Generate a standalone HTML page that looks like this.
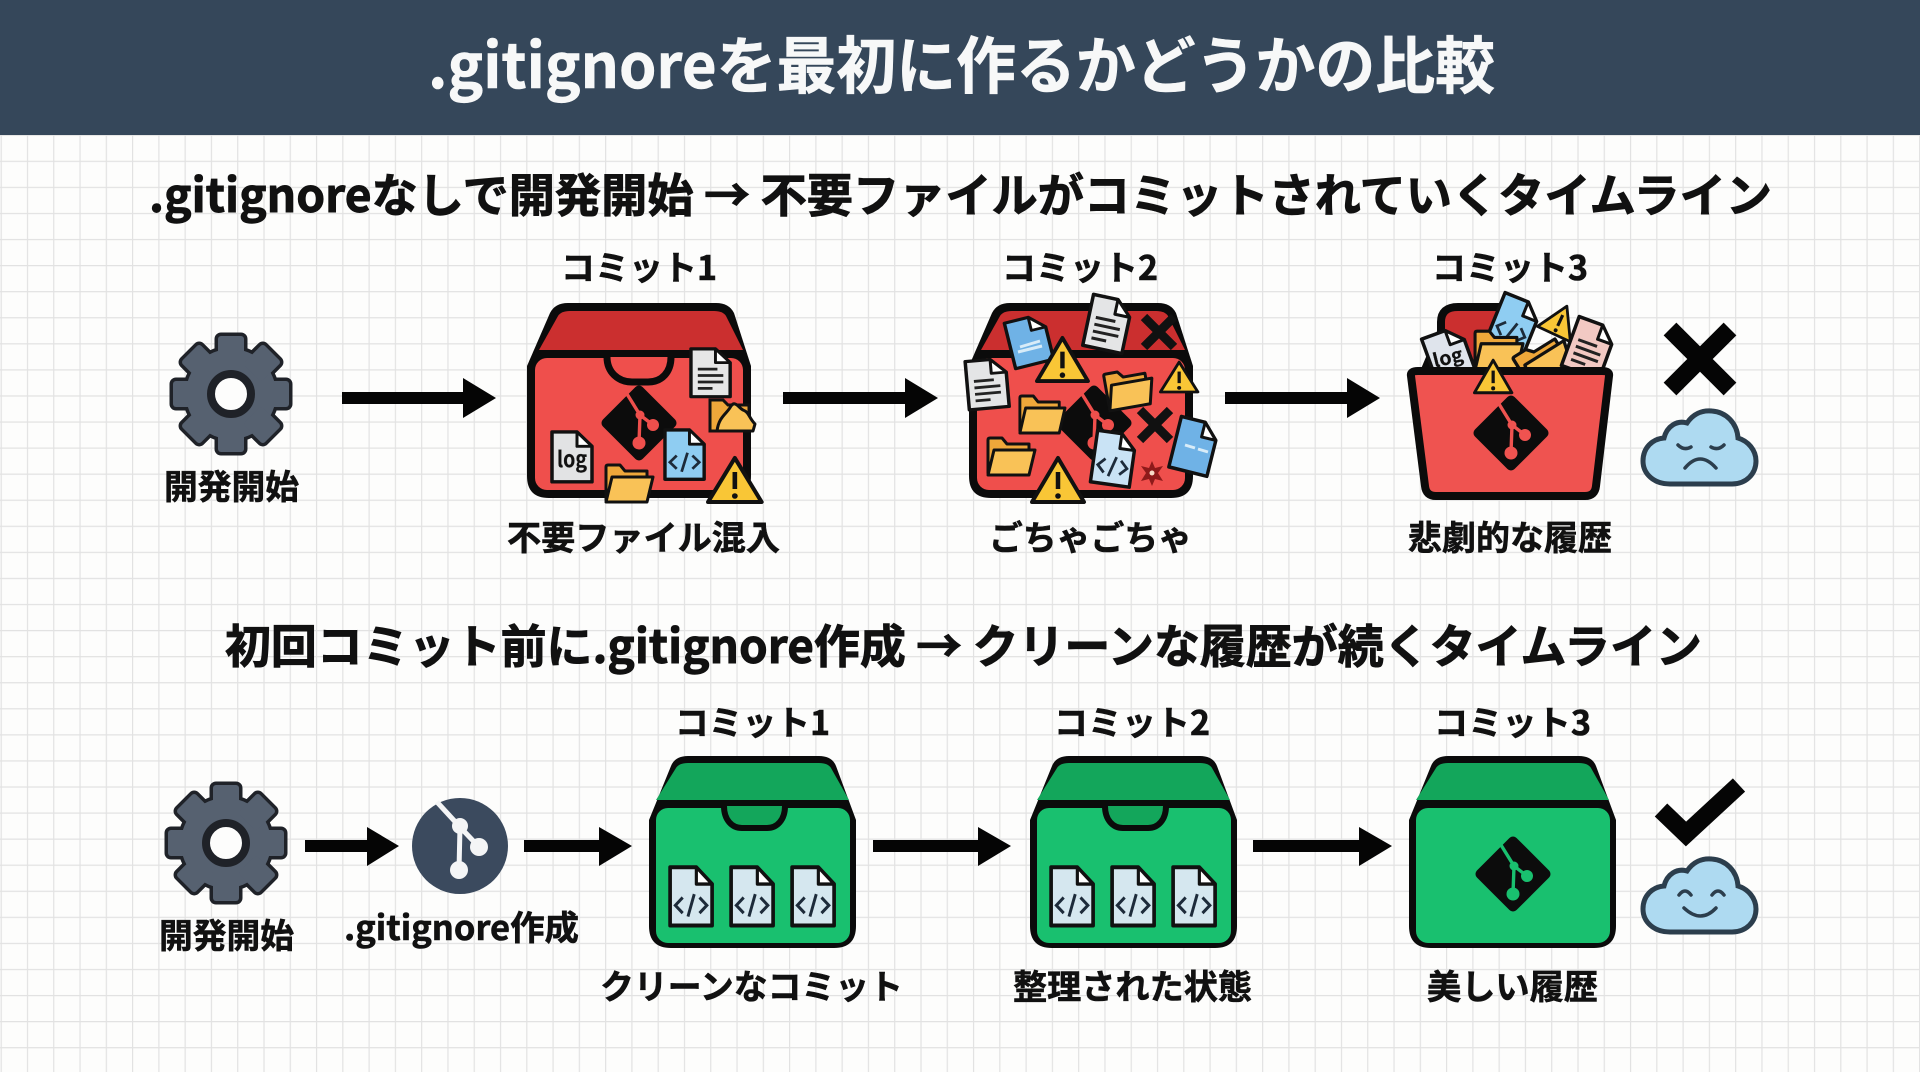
<!DOCTYPE html>
<html lang="ja">
<head>
<meta charset="utf-8">
<title>.gitignoreを最初に作るかどうかの比較</title>
<style>
html,body{margin:0;padding:0;background:#fdfdfc;width:1920px;height:1072px;overflow:hidden}
svg{display:block}
text{font-family:"Noto Sans CJK JP","Liberation Sans",sans-serif;font-weight:700;fill:#111;stroke:#111;stroke-width:.6}
</style>
</head>
<body>
<svg width="1920" height="1072" viewBox="0 0 1920 1072" xmlns="http://www.w3.org/2000/svg">
<defs>
<pattern id="grid" x="0.6" y="4.3" width="26.28" height="26.07" patternUnits="userSpaceOnUse">
<path d="M0 0H26.28M0 0V26.07" stroke="#e2e2e2" stroke-width="2.4" fill="none"/>
</pattern>
<g id="doc"><path d="M2 2H27L42 17V54H2Z" stroke="#111" stroke-width="3.5" stroke-linejoin="round"/><path d="M27 2V17H42Z" fill="#fff" stroke="#111" stroke-width="3" stroke-linejoin="round"/></g>
<g id="doclines"><use href="#doc"/><path d="M9 24H29M9 31H35M9 38H35M9 45H24" stroke="#222" stroke-width="3" fill="none"/></g>
<g id="code"><use href="#doc"/><path d="M14 29L7 36L14 43M30 29L37 36L30 43M25 26L19 46" stroke="#1d2b3a" stroke-width="2.8" fill="none"/></g>
<g id="folder"><path d="M3 38V5Q3 3 5 3H17L22 9H44V38Z" fill="#eea73a" stroke="#111" stroke-width="3" stroke-linejoin="round"/><path d="M3 40L9 15H50L44 40Z" fill="#f9c257" stroke="#111" stroke-width="3" stroke-linejoin="round"/></g>
<g id="warn"><path d="M28 3L54 47H2Z" fill="#f9c636" stroke="#111" stroke-width="4" stroke-linejoin="round"/><path d="M28 17V34" stroke="#111" stroke-width="4.5"/><circle cx="28" cy="41" r="2.8" fill="#111"/></g>
<g id="xm"><path d="M-15 -15L15 15M15 -15L-15 15" stroke="#111" stroke-width="9" fill="none"/></g>
<g id="git"><rect x="-28" y="-28" width="56" height="56" rx="5" transform="rotate(45)" fill="#0c0c0c"/><path d="M-12 -29L1 -8L14 2M1 -8L0 20" stroke="currentColor" stroke-width="3.4" fill="none"/><circle cx="1" cy="-8" r="4.5" fill="currentColor"/><circle cx="14" cy="2" r="6" fill="currentColor"/><circle cx="0" cy="20" r="6.5" fill="currentColor"/></g>
<g id="gearshape"><circle r="45"/><rect x="-13" y="-58" width="26" height="28" rx="3"/><rect x="-13" y="-58" width="26" height="28" rx="3" transform="rotate(45)"/><rect x="-13" y="-58" width="26" height="28" rx="3" transform="rotate(90)"/><rect x="-13" y="-58" width="26" height="28" rx="3" transform="rotate(135)"/><rect x="-13" y="-58" width="26" height="28" rx="3" transform="rotate(180)"/><rect x="-13" y="-58" width="26" height="28" rx="3" transform="rotate(225)"/><rect x="-13" y="-58" width="26" height="28" rx="3" transform="rotate(270)"/><rect x="-13" y="-58" width="26" height="28" rx="3" transform="rotate(315)"/></g>
<g id="gear"><use href="#gearshape" fill="#1f2228" stroke="#1f2228" stroke-width="7" stroke-linejoin="round"/><use href="#gearshape" fill="#566170"/><circle r="20" fill="#fdfdfc" stroke="#1f2228" stroke-width="8"/></g>
<path id="cloud" d="M30 76C14 76 3 66 3 53C3 40 12 31 24 30C27 18 37 12 47 15C53 6 62 2 72 3C86 4 97 15 98 30C108 33 116 42 116 53C116 66 106 76 92 76Z" fill="#aedaf1" stroke="#2c3e4d" stroke-width="5"/>
<g id="redbox">
<path d="M527 366L550 313Q555 303 568 303H716Q729 303 734 313L751 366V476Q751 498 729 498H549Q527 498 527 476Z" fill="#0b0b0b"/>
<path d="M539 350L558 316Q561 311 570 311H714Q723 311 726 316L743 350Z" fill="#cb2f2f"/>
<rect x="535" y="358" width="208" height="132" rx="12" fill="#ef4f4c"/>
</g>
<g id="greenbox">
<path d="M649 820L671 766Q675 756 688 756H819Q832 756 836 766L856 820V926Q856 948 834 948H671Q649 948 649 926Z" fill="#0b0b0b"/>
<path d="M656 800L676 768Q679 763 688 763H819Q828 763 831 768L849 800Z" fill="#13a65b"/>
<rect x="656" y="808" width="194" height="135" rx="12" fill="#19c06f"/>
</g>
<g id="docs3">
<use href="#code" fill="#d5e7ef" transform="translate(668 865) scale(1.05 1.12)"/>
<use href="#code" fill="#d5e7ef" transform="translate(729 865) scale(1.05 1.12)"/>
<use href="#code" fill="#d5e7ef" transform="translate(790 865) scale(1.05 1.12)"/>
</g>
<path id="ghandle" d="M724 806C724 820 732 828 742 828H767C777 828 785 820 785 806" fill="#13a65b" stroke="#0b0b0b" stroke-width="6"/>
</defs>

<rect width="1920" height="1072" fill="#fdfdfc"/>
<rect y="135" width="1920" height="937" fill="url(#grid)"/>
<rect width="1920" height="135" fill="#35475a"/>
<text x="428" y="88" font-size="62" textLength="1067" lengthAdjust="spacingAndGlyphs" style="fill:#f7f8f8;stroke:#f7f8f8">.gitignoreを最初に作るかどうかの比較</text>

<text x="149" y="212" font-size="46" textLength="1623" lengthAdjust="spacingAndGlyphs" style="stroke-width:.9">.gitignoreなしで開発開始 → 不要ファイルがコミットされていくタイムライン</text>
<text x="225" y="663" font-size="46" textLength="1477" lengthAdjust="spacingAndGlyphs" style="stroke-width:.9">初回コミット前に.gitignore作成 → クリーンな履歴が続くタイムライン</text>

<!-- top row -->
<use href="#gear" transform="translate(231 394)"/>
<text x="164" y="499" font-size="34" textLength="135" lengthAdjust="spacingAndGlyphs">開発開始</text>
<polygon points="342,392 463,392 463,378 496,398 463,418 463,404 342,404" fill="#050505"/>
<polygon points="783,392 905,392 905,378 938,398 905,418 905,404 783,404" fill="#050505"/>
<polygon points="1225,392 1347,392 1347,378 1380,398 1347,418 1347,404 1225,404" fill="#050505"/>

<text x="561" y="280" font-size="34" textLength="156" lengthAdjust="spacingAndGlyphs">コミット1</text>
<text x="1002" y="280" font-size="34" textLength="156" lengthAdjust="spacingAndGlyphs">コミット2</text>
<text x="1432" y="280" font-size="34" textLength="156" lengthAdjust="spacingAndGlyphs">コミット3</text>

<!-- red box 1 -->
<use href="#redbox"/>
<path d="M607 357C607 372 618 382 632 382H648C662 382 671 372 671 357" fill="#ef4f4c" stroke="#0b0b0b" stroke-width="7"/>
<use href="#git" style="color:#ef4f4c" transform="translate(639 423)"/>
<use href="#doclines" fill="#e6e6e6" transform="translate(689 347) scale(.98 .92)"/>
<g transform="translate(707 394)">
<path d="M3 37V6H16L21 11H42V37Z" fill="#eea73a" stroke="#111" stroke-width="3"/>
<path d="M10 37C12 22 20 20 24 12C28 6 32 14 36 16C42 18 42 24 48 30L46 37Z" fill="#f9c257" stroke="#111" stroke-width="3" stroke-linejoin="round"/>
</g>
<use href="#doc" fill="#e2e3e4" transform="translate(550 430) scale(1 .96)"/>
<text x="557" y="467" font-size="22" textLength="30" lengthAdjust="spacingAndGlyphs" style="stroke-width:.2">log</text>
<use href="#code" fill="#8fcdf2" transform="translate(663 428) scale(.98 .95)"/>
<use href="#folder" transform="translate(603 462)"/>
<use href="#warn" transform="translate(706 455) scale(1.03 1)"/>

<!-- red box 2 -->
<use href="#redbox" transform="translate(442 0)"/>
<use href="#git" style="color:#ef4f4c" transform="translate(1094 423)"/>
<use href="#folder" transform="translate(985 435)"/>
<use href="#folder" transform="translate(1017 393) scale(.96 1)"/>
<use href="#folder" transform="translate(1100 372) rotate(-10)"/>
<use href="#doc" fill="#6fb2e6" transform="translate(1002 322) rotate(-14) scale(.98 .9)"/>
<path d="M1020 347L1040 341M1018 352L1042 346" stroke="#d8ecf8" stroke-width="3"/>
<use href="#doclines" fill="#e4e5e6" transform="translate(1092 292) rotate(12)"/>
<use href="#xm" transform="translate(1159 332)"/>
<use href="#warn" transform="translate(1035 335) scale(.98 .98)"/>
<use href="#doclines" fill="#e4e5e6" transform="translate(963 360) rotate(-5) scale(1 .93)"/>
<use href="#warn" transform="translate(1159 360) scale(.72 .68)"/>
<use href="#xm" transform="translate(1155 425)"/>
<use href="#doc" fill="#6fb2e6" transform="translate(1180 414) rotate(14) scale(.98 1)"/>
<path d="M1185 445L1195 448M1198 449L1208 452" stroke="#d8ecf8" stroke-width="3"/>
<use href="#code" fill="#c9e3f5" transform="translate(1096 428) rotate(8) scale(.98 1)"/>
<use href="#warn" transform="translate(1030 455)"/>
<path d="M1152 461L1155 468L1163 466L1158 473L1163 481L1155 479L1152 486L1149 479L1141 481L1146 473L1141 466L1149 468Z" fill="#8e1a1a"/><circle cx="1152" cy="473" r="2.5" fill="#f7dcc8"/>

<!-- red box 3 -->
<path d="M1424 372L1441 332V322Q1441 307 1458 307H1500V372Z" fill="#cb2f2f" stroke="#0b0b0b" stroke-width="8" stroke-linejoin="round"/>
<use href="#code" fill="#8fcdf2" transform="translate(1504 290) rotate(22)"/>
<use href="#warn" transform="translate(1550 296) rotate(25) scale(.7)"/>
<use href="#folder" transform="translate(1472 328) scale(1.02 1.05)"/>
<g transform="translate(1508 357) rotate(-32) scale(1.12 1.05)"><use href="#folder"/></g>
<use href="#doclines" fill="#f2c9c3" transform="translate(1578 314) rotate(20)"/>
<use href="#doc" fill="#dfe4ec" transform="translate(1419 338) rotate(-20)"/>
<text x="1433" y="364" font-size="19" textLength="30" lengthAdjust="spacingAndGlyphs" transform="rotate(-14 1449 358)" style="stroke-width:.2">log</text>
<path d="M1411 376Q1410 371 1418 371H1602Q1610 371 1609 376L1596 486Q1595 496 1585 496H1436Q1426 496 1425 486Z" fill="#ef5350" stroke="#0b0b0b" stroke-width="8" stroke-linejoin="round"/>
<use href="#warn" transform="translate(1473 358) scale(.72 .74)"/>
<use href="#git" style="color:#ef5350" transform="translate(1511 433)"/>

<text x="1408" y="550" font-size="34" textLength="204" lengthAdjust="spacingAndGlyphs">悲劇的な履歴</text>
<text x="507" y="550" font-size="34" textLength="273" lengthAdjust="spacingAndGlyphs">不要ファイル混入</text>
<text x="989" y="550" font-size="34" textLength="203" lengthAdjust="spacingAndGlyphs">ごちゃごちゃ</text>

<!-- sad -->
<path d="M1670 329L1730 389M1730 329L1670 389" stroke="#050505" stroke-width="18" fill="none"/>
<use href="#cloud" transform="translate(1640 408)"/>
<path d="M1678 445Q1684 451 1691 447M1711 447Q1718 451 1724 445" stroke="#2c3e4d" stroke-width="3.5" fill="none" stroke-linecap="round"/>
<path d="M1685 468Q1700 450 1716 468" stroke="#2c3e4d" stroke-width="3.5" fill="none" stroke-linecap="round"/>

<!-- bottom row -->
<use href="#gear" transform="translate(226 843)"/>
<text x="159" y="948" font-size="34" textLength="135" lengthAdjust="spacingAndGlyphs">開発開始</text>
<circle cx="460" cy="846" r="48" fill="#3b4a5e"/>
<path d="M437 802L460 827L479 847M460 827L459 870" stroke="#f4f5f6" stroke-width="5" fill="none"/>
<circle cx="460" cy="826" r="8" fill="#f4f5f6"/><circle cx="479" cy="847" r="9" fill="#f4f5f6"/><circle cx="459" cy="870" r="9" fill="#f4f5f6"/>
<text x="344" y="940" font-size="34" textLength="235" lengthAdjust="spacingAndGlyphs">.gitignore作成</text>

<polygon points="305,840 367,840 367,827 399,846 367,866 367,852 305,852" fill="#050505"/>
<polygon points="524,840 599,840 599,827 632,846 599,866 599,852 524,852" fill="#050505"/>
<polygon points="873,840 978,840 978,827 1011,846 978,866 978,852 873,852" fill="#050505"/>
<polygon points="1253,840 1359,840 1359,827 1392,846 1359,866 1359,852 1253,852" fill="#050505"/>

<text x="675" y="735" font-size="34" textLength="155" lengthAdjust="spacingAndGlyphs">コミット1</text>
<text x="1054" y="735" font-size="34" textLength="156" lengthAdjust="spacingAndGlyphs">コミット2</text>
<text x="1434" y="735" font-size="34" textLength="157" lengthAdjust="spacingAndGlyphs">コミット3</text>

<use href="#greenbox"/><use href="#ghandle"/><use href="#docs3"/>
<g transform="translate(381 0)"><use href="#greenbox"/><use href="#ghandle"/><use href="#docs3"/></g>
<use href="#greenbox" transform="translate(760 0)"/>
<use href="#git" style="color:#19c06f" transform="translate(1513 874)"/>

<text x="600" y="999" font-size="34" textLength="303" lengthAdjust="spacingAndGlyphs">クリーンなコミット</text>
<text x="1013" y="999" font-size="34" textLength="239" lengthAdjust="spacingAndGlyphs">整理された状態</text>
<text x="1427" y="999" font-size="34" textLength="171" lengthAdjust="spacingAndGlyphs">美しい履歴</text>

<!-- happy -->
<path d="M1661 810L1686 834L1739 785" stroke="#050505" stroke-width="18" fill="none"/>
<use href="#cloud" transform="translate(1640 856)"/>
<path d="M1679 895Q1685 887 1691 895M1712 895Q1718 887 1724 895" stroke="#2c3e4d" stroke-width="3.5" fill="none" stroke-linecap="round"/>
<path d="M1684 908Q1701 924 1716 908" stroke="#2c3e4d" stroke-width="3.5" fill="none" stroke-linecap="round"/>
</svg>
</body>
</html>
